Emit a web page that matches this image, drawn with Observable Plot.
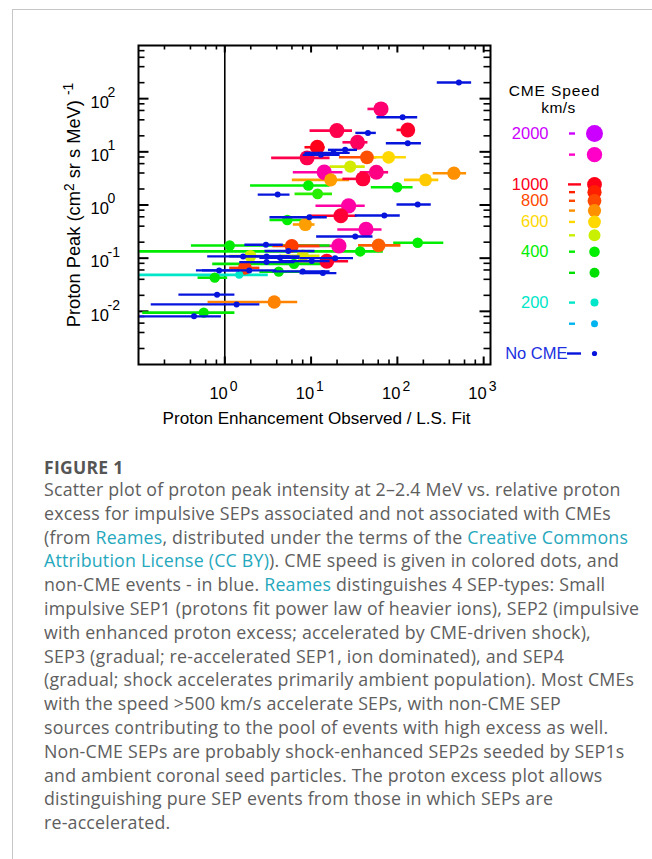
<!DOCTYPE html>
<html><head><meta charset="utf-8">
<script src="https://cdn.jsdelivr.net/npm/d3@7"></script>
<script src="https://cdn.jsdelivr.net/npm/@observablehq/plot@0.6"></script>
<style>
body{margin:0;background:#fff;}
#page{position:relative;width:652px;height:859px;overflow:hidden;}
#box{position:absolute;left:12px;top:9px;width:700px;height:900px;border-left:1.5px solid #c6c6c6;border-top:1.5px solid #c6c6c6;}
#chart{position:absolute;left:0;top:0;}
#legend{position:absolute;left:480px;top:0;}
#caption{position:absolute;left:44px;top:457px;font-family:"Open Sans",sans-serif;color:#5e5e5e;}
#caption .fig{font-weight:700;font-size:17.5px;line-height:21px;letter-spacing:0.3px;color:#555;}
#caption .ln{font-size:17.8px;line-height:23.8px;letter-spacing:0.2px;white-space:nowrap;}
#caption a{color:#25a8bd;text-decoration:none;}
</style></head>
<body>
<div id="page">
<div id="box"></div>
<div id="chart"></div>
<div id="legend"></div>
<div id="caption">
<div class="fig">FIGURE 1</div>
<div class="ln">Scatter plot of proton peak intensity at 2–2.4 MeV vs. relative proton</div>
<div class="ln">excess for impulsive SEPs associated and not associated with CMEs</div>
<div class="ln">(from <a>Reames</a>, distributed under the terms of the <a>Creative Commons</a></div>
<div class="ln"><a>Attribution License (CC BY)</a>). CME speed is given in colored dots, and</div>
<div class="ln">non-CME events - in blue. <a>Reames</a> distinguishes 4 SEP-types: Small</div>
<div class="ln">impulsive SEP1 (protons fit power law of heavier ions), SEP2 (impulsive</div>
<div class="ln">with enhanced proton excess; accelerated by CME-driven shock),</div>
<div class="ln">SEP3 (gradual; re-accelerated SEP1, ion dominated), and SEP4</div>
<div class="ln">(gradual; shock accelerates primarily ambient population). Most CMEs</div>
<div class="ln">with the speed &gt;500 km/s accelerate SEPs, with non-CME SEP</div>
<div class="ln">sources contributing to the pool of events with high excess as well.</div>
<div class="ln">Non-CME SEPs are probably shock-enhanced SEP2s seeded by SEP1s</div>
<div class="ln">and ambient coronal seed particles. The proton excess plot allows</div>
<div class="ln">distinguishing pure SEP events from those in which SEPs are</div>
<div class="ln">re-accelerated.</div>
</div>
</div>
<script>
// ---------- DATA ----------
// CME-associated events: enhancement (x), its low/high range, proton peak (y), CME speed (km/s)
const cmeX     = [64.6, 19.9, 132, 34.5, 11.8, 8.98, 44.4, 79.2, 28.4, 14.2, 16.9, 57, 39.9, 212, 452, 99.3, 9.3, 11.9, 27.2, 22.1, 8.59, 5.3, 43.3, 21.0, 60.6, 172, 37.1, 15.2, 8.0, 1.98, 1.14, 5.97, 6.34, 4.22, 1.71, 0.765, 1.47, 3.74, 0.57];
const cmeXlo   = [45.6, 9.73, 99, 23.4, 8.5, 3.49, 21.3, 48.5, 16.6, 6.22, 6.06, 37.1, 23.4, 121, 260, 49.9, 1.99, 6.52, 11.4, 9.73, 6.22, 3.34, 20.4, 6.88, 35.5, 90.6, 0.103, 4.36, 4.36, 1.14, 0.41, 3.61, 0.725, 2.55, 1.14, 0.49, 0.103, 0.64, 0.112];
const cmeXhi   = [78.6, 30.2, 155, 45.6, 14.5, 16.6, 58, 127, 42.4, 23.4, 27.9, 79.2, 48.5, 302, 634, 152, 16.6, 17.7, 42.4, 34.0, 11.1, 8.91, 66.4, 23.6, 110, 345, 68.7, 27.2, 12.7, 3.34, 16.6, 12.7, 16.6, 7.45, 2.55, 1.08, 3.19, 7.0, 1.31];
const cmeY     = [64.1, 25.1, 25.8, 15.1, 12.2, 7.70, 7.90, 7.90, 5.28, 4.13, 2.97, 4.13, 3.10, 2.97, 3.96, 2.16, 2.32, 1.62, 0.966, 0.627, 0.430, 0.523, 0.347, 0.170, 0.174, 0.195, 0.134, 0.0877, 0.111, 0.110, 0.173, 0.170, 0.078, 0.0557, 0.0656, 0.0430, 0.0485, 0.0150, 0.00946];
const cmeSpeed = [1250, 1150, 1050, 1200, 1000, 1150, 790, 600, 520, 1400, 680, 1300, 1100, 620, 700, 400, 400, 420, 1400, 1080, 680, 400, 1400, 1400, 770, 400, 380, 1050, 540, 520, 380, 830, 350, 350, 830, 350, 200, 720, 350];

// Events without a CME
const noX   = [516, 115, 45.6, 132, 24.8, 18.2, 13.0, 4.10, 172, 70.6, 9.55, 32.5, 3.0, 5.45, 1.63, 3.05, 10.2, 19.0, 3.05, 0.859, 1.92, 8.0, 13.7, 0.813, 1.37, 0.44, 4.36];
const noXlo = [290, 58, 33, 74.5, 15.9, 8.5, 8.1, 2.44, 99, 32.5, 3.34, 11.6, 1.71, 2.92, 0.634, 1.14, 4.36, 7.45, 1.49, 0.469, 0.551, 3.61, 7.45, 0.294, 0.1405, 0.103, 2.55];
const noXhi = [725, 172, 57, 190, 34.5, 28.4, 21.7, 5.70, 247, 108, 15.4, 52.2, 4.76, 11.1, 5.70, 7.45, 16.6, 31.0, 6.5, 1.49, 3.99, 16.6, 19.9, 1.31, 2.55, 0.915, 7.45];
const noY   = [202, 44.6, 22.7, 14.5, 10.9, 9.55, 8.77, 1.57, 1.02, 0.635, 0.590, 0.256, 0.179, 0.136, 0.108, 0.108, 0.088, 0.100, 0.0843, 0.0589, 0.0589, 0.0564, 0.0524, 0.0206, 0.0135, 0.00805, 0.102];

// Axis ticks
const xTickValues = [1, 10, 100, 1000];
const xTickExps   = ["0", "1", "2", "3"];
const yTickValues = [0.01, 0.1, 1, 10, 100];
const yTickExps   = ["-2", "-1", "0", "1", "2"];
const minorMultipliers = [2, 4, 6, 8];

// Legend (CME speed key)
const legendSpeeds  = [2000, 1500, 1000, 900, 800, 700, 600, 500, 400, 300, 200, 150];
const legendLabeled = [2000, 1000, 800, 600, 400, 200];
const legendLabels  = ["2000", "1000", "800", "600", "400", "200"];
const noCmeLegendPos = [100];

// colour / size key by speed
const speedStops = [150, 200, 300, 400, 500, 600, 700, 800, 900, 1000, 1500, 2000];
const colorStops = ["#00b4f0", "#00e6c8", "#00e000", "#00ee00", "#c8f000", "#ffd800", "#ff9000", "#ff4800", "#ff2000", "#ff0018", "#ff00c8", "#cc00ff"];
const sizeStops  = [3.5, 4, 5, 5.3, 6, 6.4, 6.6, 6.9, 7.1, 7.4, 7.7, 8.5];
const noCmeColor = "#0614dc";

// ---------- BUILD ----------
const cme = cmeX.map((x, i) => ({x, lo: cmeXlo[i], hi: cmeXhi[i], y: cmeY[i], speed: cmeSpeed[i]}));
const nocme = noX.map((x, i) => ({x, lo: noXlo[i], hi: noXhi[i], y: noY[i]}));

const W = 652, H = 440, mL = 138, mR = 162, mT = 45, mB = 76;
const xDomain = [0.1, 1200], yDomain = [1e-3, 1e3];
const decX = Math.log10(xDomain[1] / xDomain[0]) / (W - mL - mR);
const decY = Math.log10(yDomain[1] / yDomain[0]) / (H - mT - mB);
const minorOf = (lo, hi) => { const a = []; for (let e = lo; e <= hi; e++) for (const m of minorMultipliers) a.push(m * 10 ** e); return a; };
const xMinor = minorOf(-1, 2);
const yMinor = minorOf(-3, 2);
const colorScale = {type: "linear", domain: speedStops, range: colorStops};
const rScale = {type: "linear", domain: speedStops, range: sizeStops};
const font = "'Liberation Sans', Arial, sans-serif";
const yTitleSize = 18.3;

const xTicks = (vals, len, w) => [
  Plot.ruleX(vals, {x: d => d, y1: yDomain[0], y2: yDomain[0] * 10 ** (len * decY), stroke: "black", strokeWidth: w}),
  Plot.ruleX(vals, {x: d => d, y1: yDomain[1], y2: yDomain[1] / 10 ** (len * decY), stroke: "black", strokeWidth: w})
];
const yTicks = (vals, len, w) => [
  Plot.ruleY(vals, {y: d => d, x1: xDomain[0], x2: xDomain[0] * 10 ** (len * decX), stroke: "black", strokeWidth: w}),
  Plot.ruleY(vals, {y: d => d, x1: xDomain[1], x2: xDomain[1] / 10 ** (len * decX), stroke: "black", strokeWidth: w})
];

const chart = Plot.plot({
  width: W, height: H, marginLeft: mL, marginRight: mR, marginTop: mT, marginBottom: mB,
  style: {fontFamily: font, background: "transparent", overflow: "visible"},
  x: {type: "log", domain: xDomain, axis: null},
  y: {type: "log", domain: yDomain, axis: null},
  color: colorScale,
  r: rScale,
  marks: [
    ...xTicks(xMinor, 4.5, 1.6), ...xTicks(xTickValues, 7.5, 2),
    ...yTicks(yMinor, 6.5, 1.6), ...yTicks(yTickValues, 10.5, 2),
    Plot.ruleX([1], {x: d => d, stroke: "black", strokeWidth: 1.6}),
    Plot.ruleY(cme, {y: "y", x1: "lo", x2: "hi", stroke: "speed", strokeWidth: 2.6}),
    Plot.dot(cme, {x: "x", y: "y", r: "speed", fill: "speed"}),
    Plot.ruleY(nocme, {y: "y", x1: "lo", x2: "hi", stroke: noCmeColor, strokeWidth: 2.4}),
    Plot.dot(nocme, {x: "x", y: "y", r: 3, fill: noCmeColor}),
    Plot.frame({stroke: "black", strokeWidth: 2}),
    Plot.text(xTickValues, {x: d => d, frameAnchor: "bottom", lineAnchor: "middle", dy: 29, dx: 3, textAnchor: "end", text: () => "10", fontSize: 16.5, fill: "black"}),
    Plot.text(xTickValues, {x: d => d, frameAnchor: "bottom", lineAnchor: "middle", dy: 22, dx: 5, textAnchor: "start", text: (d, i) => xTickExps[i], fontSize: 14, fill: "black"}),
    Plot.text(yTickValues, {y: d => d, frameAnchor: "left", lineAnchor: "middle", dx: -48, dy: 4, textAnchor: "start", text: () => "10", fontSize: 16.5, fill: "black"}),
    Plot.text(yTickValues, {y: d => d, frameAnchor: "left", lineAnchor: "middle", dx: -31, dy: -6, textAnchor: "start", text: (d, i) => yTickExps[i], fontSize: 14, fill: "black"}),
    Plot.text(["Proton Enhancement Observed / L.S. Fit"], {frameAnchor: "bottom", lineAnchor: "middle", dy: 54, dx: 2, text: d => d, fontSize: 17.1, fill: "black"}),
    Plot.text(["YLABEL"], {frameAnchor: "left", lineAnchor: "middle", dx: -64, rotate: -90, text: d => d, fontSize: yTitleSize, fill: "black"})
  ]
});
// superscripts in y title
chart.querySelectorAll("text").forEach(t => {
  if (t.textContent === "YLABEL") {
    t.textContent = "";
    t.setAttribute("text-anchor", "middle");
    const ns = "http://www.w3.org/2000/svg";
    const parts = [["Proton Peak (cm", 0, 1], ["2", -6, 0.75], [" sr s MeV) ", 6, 1], ["-1", -7, 0.75]];
    parts.forEach(([s, dy, f]) => { const sp = document.createElementNS(ns, "tspan"); sp.textContent = s; if (dy) sp.setAttribute("dy", dy); if (f !== 1) sp.setAttribute("font-size", (yTitleSize * f) + "px"); t.appendChild(sp); });
  }
});
document.getElementById("chart").appendChild(chart);

// ---------- LEGEND ----------
const LW = 172;
const legend = Plot.plot({
  width: LW, height: H, margin: 0,
  style: {fontFamily: font, background: "transparent", overflow: "visible"},
  x: {type: "identity", axis: null},
  y: {type: "log", domain: [100, 2000], range: [353, 133], axis: null},
  color: colorScale,
  r: rScale,
  marks: [
    Plot.text(["CME Speed"], {x: 74, frameAnchor: "top", lineAnchor: "middle", dy: 90.5, text: d => d, fontSize: 15.5, fill: "black"}),
    Plot.text(["km/s"], {x: 78, frameAnchor: "top", lineAnchor: "middle", dy: 108, text: d => d, fontSize: 15.5, fill: "black"}),
    Plot.text(legendLabeled, {x: 68, y: d => d, text: (d, i) => legendLabels[i], textAnchor: "end", fill: d => d, fontSize: 16.5}),
    Plot.ruleY(legendSpeeds, {y: d => d, x1: d => d === 1000 ? 88 : 89, x2: d => d === 1000 ? 101 : 95, stroke: d => d, strokeWidth: 2.4}),
    Plot.dot(legendSpeeds, {x: 114, y: d => d, r: d => d, fill: d => d}),
    Plot.text(noCmeLegendPos, {x: 87, y: d => d, text: () => "No CME", textAnchor: "end", fill: "#2030e0", fontSize: 16.5}),
    Plot.ruleY(noCmeLegendPos, {y: d => d, x1: 87, x2: 101, stroke: noCmeColor, strokeWidth: 2.4}),
    Plot.dot(noCmeLegendPos, {x: 114, y: d => d, r: 2.6, fill: noCmeColor})
  ]
});
legend.querySelectorAll("text").forEach(t => {
  if (t.textContent === "CME Speed") t.setAttribute("letter-spacing", "0.9");
  if (t.textContent === "km/s") t.setAttribute("letter-spacing", "0.5");
});
document.getElementById("legend").appendChild(legend);
</script>
</body></html>
